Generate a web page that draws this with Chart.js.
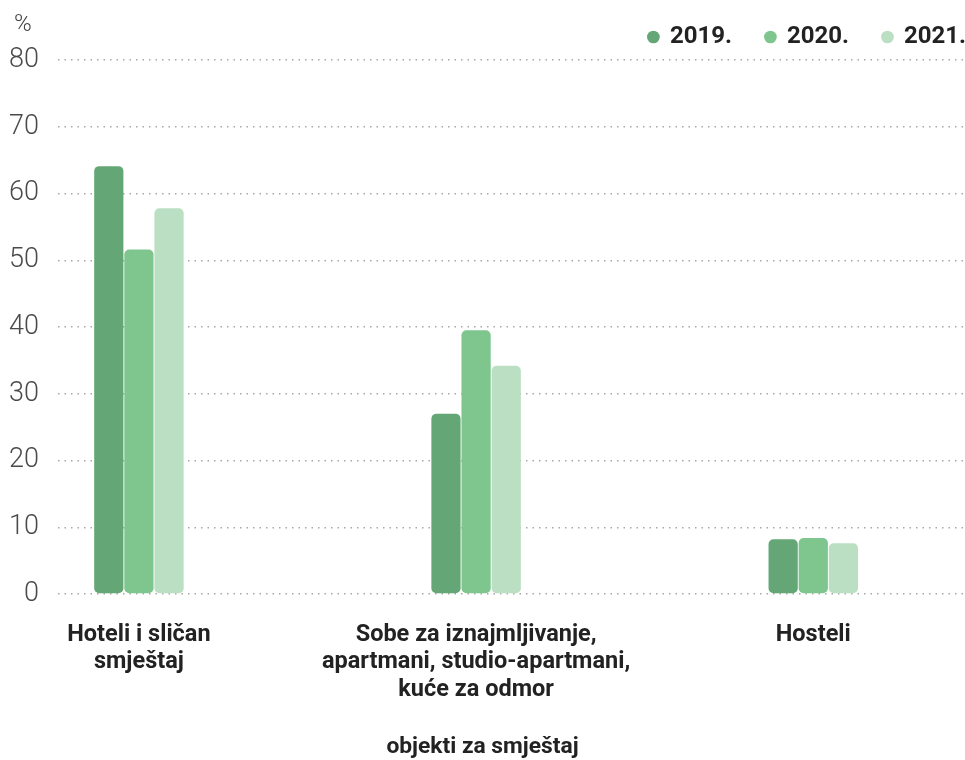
<!DOCTYPE html>
<html>
<head>
<meta charset="utf-8">
<script src="https://cdn.jsdelivr.net/npm/chart.js@4.4.1/dist/chart.umd.min.js"></script>
<style>
  html, body { margin: 0; padding: 0; background: #ffffff; }
  #wrap { width: 965px; height: 760px; position: relative; }
</style>
</head>
<body>
<div id="wrap"><canvas id="c" width="965" height="760"></canvas></div>
<script>
const categories = [
  ['Hoteli i sličan', 'smještaj'],
  ['Sobe za iznajmljivanje,', 'apartmani, studio-apartmani,', 'kuće za odmor'],
  ['Hosteli']
];
const seriesNames = ['2019.', '2020.', '2021.'];
const values2019 = [64.1, 27.0, 8.2];
const values2020 = [51.6, 39.5, 8.4];
const values2021 = [57.8, 34.2, 7.6];
const yTicks = [0, 10, 20, 30, 40, 50, 60, 70, 80];
const yUnit = '%';
const xTitle = 'objekti za smještaj';

const colors = ['#64a675', '#7ec68e', '#badfc2'];
const positions = categories.map((c, i) => i);

const LEGEND_PAD = 34;
const LEGEND_FONT = 24;

const textPlugin = {
  id: 'extraText',
  afterDraw(chart) {
    const ctx = chart.ctx;
    ctx.save();
    ctx.fillStyle = '#444444';
    ctx.font = '300 24px Roboto';
    ctx.textAlign = 'left';
    ctx.textBaseline = 'middle';
    ctx.fillText(yUnit, 14, 25);
    ctx.fillStyle = '#222222';
    ctx.font = 'bold 22.8px Roboto';
    ctx.textAlign = 'center';
    ctx.fillText(xTitle, chart.width / 2, 747);
    ctx.restore();
  }
};

const legendPlace = {
  id: 'legendPlace',
  beforeInit(chart) {
    const orig = chart.legend.fit;
    chart.legend.fit = function () {
      orig.call(this);
      this.height = 60;
    };
  },
  afterLayout(chart) {
    const lg = chart.legend;
    const dx = 35;
    lg.left += dx;
    lg.right += dx;
    const h = lg.bottom - lg.top;
    lg.top = 37 - LEGEND_PAD - LEGEND_FONT / 2;
    lg.bottom = lg.top + h;
  }
};

new Chart(document.getElementById('c'), {
  type: 'bar',
  data: {
    labels: positions,
    datasets: [values2019, values2020, values2021].map((vals, i) => ({
      label: seriesNames[i],
      data: vals,
      backgroundColor: colors[i],
      borderWidth: 0,
      borderRadius: 5,
      borderSkipped: false,
      barPercentage: 0.97,
      categoryPercentage: 0.268
    }))
  },
  options: {
    responsive: false,
    animation: false,
    devicePixelRatio: 1,
    layout: { padding: { left: 0, right: 0, top: 0, bottom: 0 } },
    plugins: {
      tooltip: { enabled: false },
      legend: {
        position: 'top',
        align: 'end',
        labels: {
          usePointStyle: true,
          pointStyle: 'circle',
          boxWidth: 9,
          boxHeight: 9,
          padding: LEGEND_PAD,
          color: '#222222',
          font: { family: 'Roboto', size: LEGEND_FONT, weight: 'bold' }
        }
      }
    },
    scales: {
      x: {
        type: 'linear',
        offset: false,
        min: -0.24,
        max: 2.45,
        grid: { display: false, drawTicks: false, tickLength: 0 },
        border: { display: false },
        afterBuildTicks(scale) {
          scale.ticks = positions.map(v => ({ value: v }));
        },
        afterFit(scale) {
          scale.height = 760 - 594;
        },
        ticks: {
          padding: 27,
          color: '#222222',
          font: { family: 'Roboto', size: 23.5, weight: 'bold', lineHeight: 1.17 },
          maxRotation: 0,
          autoSkip: false,
          callback: (v) => categories[v] || ''
        }
      },
      y: {
        min: 0,
        max: 80,
        afterBuildTicks(scale) {
          scale.ticks = yTicks.map(v => ({ value: v }));
        },
        afterFit(scale) {
          scale.width = 58;
        },
        grid: {
          color: '#a8a8a8',
          lineWidth: 1.5,
          drawTicks: false
        },
        border: { display: false, dash: [1.5, 5] },
        ticks: {
          padding: 19,
          color: '#4a4a4a',
          font: { family: 'Roboto', size: 27, weight: '300' }
        }
      }
    }
  },
  plugins: [textPlugin, legendPlace]
});
</script>
</body>
</html>
